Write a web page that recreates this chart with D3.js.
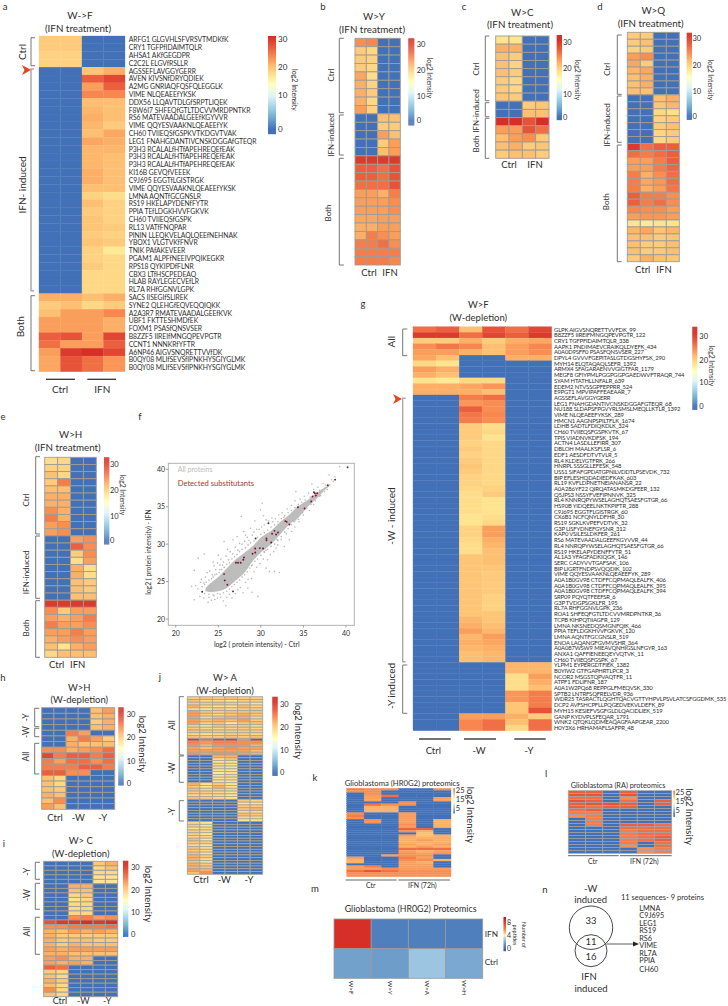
<!DOCTYPE html>
<html><head><meta charset="utf-8">
<script src="https://cdn.jsdelivr.net/npm/d3@7"></script>
<style>html,body{margin:0;padding:0;background:#fff}svg{display:block}text{font-family:Lato,"Open Sans",sans-serif;fill:#2e2e2e}</style>
</head><body><svg id="c" width="728" height="1006"></svg>
<script>
// ---------- DATA ----------
const labelsA=["ARFG1 GLGVHLSFVRSVTMDKfK","CRY1 TGFPfIDAIMTQLR","AHSA1 AKfGEGDPR","C2C2L ELGVfRSLLR","AGSSEFLAVGGYGERR","AVEN KIVSNfDRYQDIEK","A2MG GNRIAQFQSFQLEGGLK","VIME NLQEAEEfYKSK","DDX56 LLQAVTDLGfSRPTLIQEK","F8W6I7 SHFEQfGTLTDCVVMRDPNTKR","RS6 MATEVAADALGEEfKGYVVR","VIME QQYESVAAKNLQEAEEfYK","CH60 TVIIEQSfGSPKVTKDGVTVAK","LEG1 FNAHGDANTIVCNSKDGGAfGTEQR","P3H3 RCALALfHTfAPEHREQEfEAK","P3H3 RCALALfHTfAPEHREQEfEAK","P3H3 RCALALfHTfAPEHREQEfEAK","KI16B GEVQfVEEEK","C9J695 EGGTfLGISTRGK","VIME QQYESVAAKNLQEAEEfYKSK","LMNA AQNTfGCGNSLR","RS19 HKELAPYDENfFYTR","PPIA TEfLDGKHVVFGKVK","CH60 TVIIEQSfGSPK","RL13 VATfFNQPAR","PININ LLEQKVELAQLQEEfNEHNAK","YBOX1 VLGTVKfFNVR","TNIK PAfAKEVEER","PGAM1 ALPFfNEEIVPQIKEGKR","RPS18 QYKIPDfFLNR","CBX3 LTfHSCPEDEAQ","HLAB RAYLEGECVEfLR","RL7A RHfGGNVLGPK","SACS IISEGIfSLIREK","SYNE2 QLEHGfEQVEQQIQKK","A2A3R7 RMATEVAADALGEEfKVK","UBF1 FKTTESHMDfEK","FOXM1 PSASfQNSVSER","B8ZZF5 IIREIfMNGQPEVPGTR","CCNT1 NNNKRfYFTR","A6NP46 AIGVSNQRETTVVfDK","B0QY08 MLIfSEVSfIPNKHYSGIYGLMK","B0QY08 MLIfSEVSfIPNKHYSGIYGLMK"];
const cellsA=[[20,20,0,0],[20,20,0,0],[19.5,19.5,0,0],[19.5,19.5,0,0],
[0,0,20.5,22],[0,0,27,29],[0,0,23,27],[0,0,24.5,24.5],[0,0,21,21],[0,0,21.5,21],[0,0,22,21],[0,0,21.5,20],[0,0,21,22.5],[0,0,22.5,22],[0,0,21.5,21.5],[0,0,21.5,21],[0,0,21.5,21],[0,0,22,21],[0,0,22,21],[0,0,21,21],[0,0,19.5,18.5],[0,0,21,19.5],[0,0,20,19.5],[0,0,20.5,19.5],[0,0,20.5,20],[0,0,20,19.5],[0,0,20.5,20],[0,0,19.5,17.5],[0,0,19.5,19],[0,0,20,19],[0,0,19,19],[0,0,19,19],[0,0,19,19],
[22,22,21,22],[20,21,19,20],[21,23,23,24.5],[23,23,23,22],[23,23,23,22],[27,28,23,29],[26,23,23,27],[23,30,31,29],[22.5,28,26,23.5],[22.5,28,26,23.5]];
const cellsB=[[24,24.5,0,0],[20,19,0,0],[20,19.5,0,0],[20,19,0,0],[22.5,18.5,0,0],[22,19.5,0,0],[22,20,0,0],[22,19,0,0],[23,19.5,0,0],
[0,0,21,21],[0,0,20,20],[0,0,23,21],[0,0,20,23],[0,0,21,23],
[30,30,30,30],[27,27,26,28],[27,27,26,28],[26,26,26,28],[23,23,22,25],[23,23,23,24],[23,23,23,24],[22.5,22.5,23,23],[22,22,23,23],[22,25,24,23],[25,25,26,24],[25,25,25,25],[25,25,25,24.5]];
const cellsC=[[18,18,0,0],[22,22,0,0],[21,20,0,0],[21,19.5,0,0],[21,20,0,0],[20,19,0,0],[20,19,0,0],[20.5,20,0,0],
[0,0,20,20.5],[0,0,21,21],
[31,31,28,31],[23,23,28,26],[21,23,24,20],[21,22,20,20.5],[20,21,21,20]];
const cellsD=[[20,20,0,0],[20,21,0,0],[19.5,20,0,0],[23,24,0,0],[22.5,20,0,0],[21.5,22.5,0,0],[21,22,0,0],[21,22,0,0],[21,21,0,0],
[0,0,21,22],[0,0,20.5,21.5],[0,0,19,18.5],[0,0,19.5,20],[0,0,20,21],[0,0,19,20],[0,0,19,20],
[30,26,27,27],[26,25,26,27],[23,23,25,27],[23,23,25,26.5],[25,22,24,26],[25,22.5,23.5,26],[25,22,23,25.5],[27,25,25,24],[27,25,26,24],[24.5,24,24,23],[23,23.5,23.5,23],[18,17.5,18,18],[21.5,22.5,20.5,21.5],[21,21,20,20.5],[21,20,20,21],[21,20,20,21],[20,22,21,20.5]];
const cellsE=[[18.5,19,0,0],[19.5,19.5,0,0],[21,19,0,0],[20,25,0,0],[21,21,0,0],[22,22,0,0],[22,22,0,0],[24,22,0,0],[25,22,0,0],[23,24,0,0],[23,24,0,0],
[0,0,23,24],[0,0,27,24],[0,0,20,24],[0,0,18.5,23],[0,0,22,18.5],[0,0,22,18.5],[0,0,21,20],[0,0,21,20],[0,0,21,21],
[30,30,30,30],[24,20,23,23],[23,22,23,25],[25,23,23,24],[23,23,25,23],[22,23,24,23],[21,18,22,23],[19,21,21,21]];
const labelsG=["GLPK AIGVSNQRETTVVFDK_99","B8ZZF5 IIREIFMNGQPEVPGTR_122","CRY1 TGFPFIDAIMTQLR_338","AAPK1 PNDIMAEVCRAIKQLDYEFK_434","A0A0D9SFF0 PSASFQNSVSER_227","DPYL4 GVVVFGEPITASLGTDGSHYFSK_290","MYH14 ELQTAQAQLSEFR_1392","ARMX4 SFAGARAENVVGIGTFAR_1179","MEGF8 GFIYPMLPGGPGGPGAEDWVFTRAQR_744","SYAM HTATHLLNFALR_639","EDEM2 NTVSSGPFEPPRR_524","E9PGT1 MPVIPAFFEAEAAR_7","AGSSEFLAVGGYGERR","LEG1 FNAHGDANTIVCNSKDGGAFGTEQR_68","NU188 SLDAPSFPGVYRLSMSLMEQLLKTLR_1392","VIME NLQEAEEFYKSK_289","HMCN1 AAGNPSPILTFLK_1674","LDHB SADTLFDIQKDLK_324","CH60 TVIIEQSFGSPKVTK_67","TPIS VIADNVKDFSK_194","ACTN4 LASDLLEFIRR_307","DBLOH MAALKSFLSR_6","EDF1 AESDFDTVTVLR_5","RL4 KLDELYGTFRK_266","HNRPL SSSGLLEFESK_548","USS1 SIFAFGPDATGPNILVDDTLPSEVDK_732","BIP EFLESHQDADIEDFKAK_603","RL19 KVFLDPNETNEIANANSR_22","A0A286YF22 QIRQATASMKDGFEER_132","Q5JPS3 NSSYFVEFIPNNVK_325","RL4 KNNRQPYWSELAGHQTSAESFGTGR_66","HS90B YIDQEELNKTKPIFTR_288","C9J695 EGGTFLGISTRGK_60","CX6B1 NCFQNYLDFHR_30","RS19 SGKLKVPEFVDTVK_32","G3P LISFYDNEFGYSNR_312","KAP0 VSILESLDKFER_261","RS6 MATEVAADALGEEFKGYVVR_44","RL4 NNRQPYWSELAGHQTSAESFGTGR_66","RS19 HKELAPYDENFFYTR_51","AL1A3 YFAGFADKIQGK_146","SERC CADYVVTGAFSAK_106","BIP LIGRTFNDPSVQQDIK_102","VIME QQYESVAAKNLQEAEEFYK_289","A0A1B0GV98 CTDFFCQPMAQLEALFK_406","A0A1B0GV98 CTDFFCQPMAQLEALFK_395","A0A1B0GV98 CTDFFCQPMAQLEALFK_394","SRP09 PQYQTFEEFSR_6","G3P TVDGPSGKLFR_195","RL7A RHFGGNVLGPK_236","ROA1 SHFEQFGTLTDCVVMRDPNTKR_36","TCPB KIHPQTIIAGFR_129","LMNA NKSNEDQSMGNFQIK_466","PPIA TEFLDGKHVVFGKVK_120","LMNA AQNTFGCGNSLR_519","ENOA LAQANGFGVMVSHR_364","A0A087WSW9 MIEAVQNHIGSLNFGYR_163","ANXA1 QAFFIENEEQEYVQTVK_11","CH60 TVIIEQSFGSPK_67","YLPM1 EYPERGDTFIEK_1382","B0YIW2 GTFGAPHRTLPCR_3","NCOR2 MSGSTQPVAQTFR_11","ATPF1 FDLIFNR_187","A0A1W2PQ68 REPPGLFMEQVSK_330","SPTB2 LNTRFSQFRELVDR_936","WDR25 TASRACTLQGHTQACVGTTYHPVLPSVLATCSFGGDMK_535","DCP2 AVFSHCPFLLPQGEDVEKVLDEFK_89","MYH15 KESIEFVSGFGLDLQACIDLIEK_519","GANP KYDVPLSFEQAR_1791","WNK2 QTQKLQDMEAQAGFAAPGEAR_2200","H0Y3X6 HRHAMAFLSAFPR_48"];
const cellsG=[[26,27,21,28,26,29],[30,30,26,29,27,30],[20,20,22,20,22,22.5],[24,25.5,24.5,21,23,24.5],[23,23,22,21,23,24],[22.5,21,0,0,22,22],[19,18,0,0,0,0],[23,22,0,0,0,0],[22,21,0,0,0,0],[18,17.5,19,19,0,0],[22,22,22.5,23.5,0,0],[22,22,22,21,0,0],
[0,0,25,26,0,0],[0,0,23.5,24,0,0],[0,0,27,24,0,0],[0,0,25.5,24.5,0,0],[0,0,25,24,0,0],[0,0,20,18.5,0,0],[0,0,20,19,0,0],[0,0,20,18,0,0],[0,0,19.5,19,0,0],[0,0,20,19,0,0],[0,0,19.5,19,0,0],[0,0,20,19,0,0],[0,0,20.5,19,0,0],[0,0,20,19,0,0],[0,0,19.5,19,0,0],[0,0,19.5,19,0,0],[0,0,19,19.5,0,0],[0,0,18.5,20,0,0],[0,0,18.5,18,0,0],[0,0,18.5,18,0,0],[0,0,18.5,18,0,0],[0,0,18,18.5,0,0],[0,0,18,19,0,0],[0,0,19.5,23,0,0],[0,0,19.5,23,0,0],[0,0,19,22,0,0],[0,0,18.5,21.5,0,0],[0,0,18.5,21,0,0],[0,0,20.5,21,0,0],[0,0,20.5,21,0,0],[0,0,20.5,20.5,0,0],[0,0,20.5,20,0,0],[0,0,20.5,20,0,0],[0,0,20.5,20,0,0],[0,0,20.5,20,0,0],[0,0,20.5,19.5,0,0],[0,0,20.5,19.5,0,0],[0,0,20.5,19.5,0,0],[0,0,20.5,20.5,0,0],[0,0,21.5,20.5,0,0],[0,0,22,21,0,0],[0,0,23,21.5,0,0],[0,0,21.5,23,0,0],[0,0,22,22.5,0,0],[0,0,21.5,22,0,0],[0,0,21,21.5,0,0],[0,0,21,21.5,0,0],
[0,0,0,0,21.5,21.5],[0,0,0,0,21.5,21.5],[0,0,0,0,18.5,23],[0,0,0,0,18.5,22],[0,0,0,0,18.5,21],[0,0,0,0,23.5,25],[0,0,0,0,23.5,25],[0,0,0,0,20.5,25],[0,0,0,0,20.5,28],[0,0,23,23,22,20],[0,0,24.5,26,21,26],[0,0,24.5,26,19,26]];
const cellsH=[[0,0,0,0,21,23],[0,0,0,0,21,22],[0,0,0,0,20,22],[0,0,0,0,21,22],[0,0,25,23,0,0],[0,0,22,25,23,20],[0,0,22,21,21,21],[24,24,22,23,24,26],[29,25,27,27,25,27],[25,23,26,26,24,26],[25,25,25,27,27,25],[27,27,24,24,0,0],[21,19,0,0,0,0],[21,19,0,0,0,0],[21,20,0,0,0,0],[22,21,0,0,0,0],[21,24,0,0,0,0],[23,21,0,0,0,0]];
const cellsI=[[0,0,0,0,20,22],[0,0,0,0,19,21],[0,0,0,0,19,19],[0,0,0,0,18,18],[0,0,0,0,18,18],
[0,0,22,22,0,0],[0,0,21,21,0,0],[0,0,19,20,0,0],[0,0,18,19,0,0],[0,0,19,19,0,0],[0,0,19,19,0,0],[0,0,19,19,0,0],[0,0,24,25,23,24],
[28,30,30,31,30,31],[24,24,25,25,25,26],[22,21,23,22,23,22],[22,20,20,20,20,20],[22,20,21,21,20,20],[22,20,22,21,21,21],[23,22,23,23,23,23],[22,22,21,21,21,21],[23,24,22,22,0,0],[23,22,23,22,0,0],[27,26,0,0,0,0],
[20,19,0,0,0,0],[21,19,0,0,0,0],[22,20,0,0,0,0],[21,19,0,0,0,0],[24,19,0,0,0,0],[21,19,0,0,0,0]];
const cellsJ=[[20,21,20,21,20,20],[21,19,19,18,20,20],[20,20,21,20,19,18],[22,19,18,18,21,19],[19,18,20,19,20,20],[23,21,20,21,21,21],[23,20,19,20,22,20],[23,19,21,22,22,19],[23,21,22,21,23,20],[23,20,21,18,21,21],[20,18,21,20,20,19],[20,19,19,19,20,19],[21,21,20,20,20,20],[19,18,19,20,20,19],[21,20,20,21,20,21],[30,26,29,30,24,30],[25,23,25,25,24,24],[24,22,24,24,24,22],[23,21,23,24,23,23],[23,23,23,23,23,21],[24,23,24,24,23,22],
[0,0,22,22,0,0],[0,0,19,21,0,0],[0,0,18,18,0,0],[0,0,19,18,0,0],[0,0,19,18,0,0],[0,0,18,18,0,0],[0,0,17,18,0,0],[0,0,18,19,0,0],[0,0,18,18,0,0],[0,0,18,18,0,0],[22,18,20,18,0,0],[20,18,22,18,0,0],[21,19,20,19,0,0],[20,20,19,18,0,0],[19,19,19,18,0,0],[21,20,19,18,0,0],
[0,0,0,0,20,19],[0,0,0,0,18,18],[0,0,0,0,20,20],[0,0,0,0,21,22],[0,0,0,0,19,19],[0,0,0,0,21,20],[0,0,0,0,19,19],[0,0,0,0,18,18],
[19,18,0,0,0,0],[20,18,0,0,0,0],[18,19,0,0,0,0],[20,19,0,0,0,0],[20,18,0,0,0,0],[19,19,0,0,0,0],[21,18,0,0,0,0],[20,20,0,0,0,0],[19,18,0,0,0,0],[21,19,0,0,0,0],[20,19,0,0,0,0],[21,18,0,0,0,0],[22,20,0,0,0,0],[22,19,0,0,0,0],[21,18,0,0,0,0],[22,20,0,0,0,0],[22,21,0,0,0,0],[23,22,0,0,0,0],[21,24,0,0,0,0]];
const cellsK=[[25,24,24,0,0,24],[24,24,0,0,0,0],[0,24,0,0,0,0],[0,23,26,0,0,0],[0,23,0,0,0,23],[0,23,0,0,0,23],[0,0,0,24,0,0],[0,26,24,24,0,0],[0,22,22,0,0,0],[0,22,22,0,0,0],[0,22,22,0,0,0],[24,0,0,23,0,0],[25,0,0,23,0,0],[24,0,0,23,0,0],[0,24,0,23,0,22],[0,24,0,23,0,22],[0,0,0,24,0,22],[0,0,0,23,0,22],[0,0,0,27,27,0],[0,0,0,24,22,0],[0,0,0,0,21,0],[0,0,0,23,21,22],[0,0,0,22,22,22],[0,0,0,22,23,22],[0,0,0,22,22,22],[0,0,0,23,22,23],[0,0,0,22,23,22],[0,0,0,26,26,26],[0,0,0,23,22,23],[0,0,0,24,23,24],[0,0,23,24,24,0],[23,0,0,25,23,0],[22,0,0,24,24,22],[22,0,0,23,22,0],[0,0,0,23,23,0],[23,25,0,23,23,0],[23,23,24,23,23,23],[26,28,26,24,24,24],[24,24,24,24,24,24],[24,24,24,24,24,24]];
const cellsL=[[27,27,0,27,0,0],[28,28,0,28,0,0],[26,26,0,24,0,0],[28,27,0,26,0,27],[27,28,28,27,0,27],[27,26,27,27,0,0],[26,27,0,0,0,0],[25,25,0,0,0,0],[24,25,0,0,0,0],[0,25,0,0,0,0],[0,25,0,0,0,0],[0,25,0,27,27,26],[0,0,0,26,26,26],[0,0,0,25,26,26],[0,0,0,25,26,26],[0,0,0,25,26,27],[0,0,0,25,26,27],[0,0,0,25,0,26],[0,0,0,24,0,26],[0,0,0,0,24,25],[0,0,0,0,24,25]];
const cellsM=[[8.6,0.5,0.5,0.5],[1.7,1.6,2.7,1.9]];
const samplesM=["W>F","W>Y","W>A","W>H"];
const rowNamesM=["IFN","Ctrl"];
const vennItems=["LMNA","C9J695","LEG1","RS19","RS6","VIME","RL7A","PPIA","CH60"];
const cloudX=[23.5,24.0,25.0,25.95,26.9,28.1,29.1,30,31.2,32.2,33.3,34.3,35.5,36.5,37.4,38.0];
const cloudHi=[24.1,24.7,25.6,26.7,27.8,28.9,29.8,30.9,31.8,32.9,33.9,35.0,35.9,36.8,37.5,37.9];
const cloudLo=[23.7,23.6,23.7,24.1,25.0,26.2,27.8,28.9,30.0,31.2,32.6,33.4,35.0,36.0,37.1,37.7];
const strayPts=[[22.18,26.49],[22.65,28.13],[23.35,28.67],[21.87,24.36],[22.33,24.44],[22.18,22.58],[22.84,23.02],[23.81,22.22],[25.88,21.78],[24.6,22.6],[27.7,33.69],[30.16,35.47],[29.96,34.58],[28,31.69],[28.79,32.13],[26.73,30.58],[25.68,30.36],[34.12,37.02],[36,38.04],[38,39.24],[39.26,40.36],[30.62,33.24],[32.18,26.22],[31.6,26.36],[31.01,26.36],[29.65,23.02],[28.95,23.56],[28.48,24.13],[30.62,26.8],[31.79,29.47],[32.76,29.69],[33.35,30.58],
[22.6,24.0],[22.9,24.9],[23.0,25.3],[23.3,24.8],[23.5,25.6],[23.7,26.2],[24.0,26.4],[24.3,25.9],[24.5,27.1],[24.7,26.6],[24.9,27.5],[25.2,27.2],[25.3,28.0],[25.6,27.6],[25.9,28.4],[26.2,27.9],[26.4,29.0],[26.7,28.7],[27.0,29.6],[27.3,29.2],[27.5,30.1],[27.8,30.0],[28.1,30.4],[28.4,30.9],[28.6,30.5],[29.0,31.2],[29.2,31.6],[29.5,32.0],[29.8,32.0],[30.1,32.3],[30.4,32.6],[30.9,33.1],[31.3,33.5],[31.7,33.4],[32.1,33.9],[32.5,34.2],[33.1,34.7],[33.6,35.2],[34.0,35.8],[34.6,36.0],[35.1,36.4],[35.6,36.8],[36.2,37.3],[36.7,37.6],[37.3,38.1],
[23.3,22.8],[23.9,22.9],[24.2,22.5],[24.5,23.1],[24.9,22.8],[25.3,22.9],[25.6,22.4],[26.0,22.9],[26.3,23.3],[26.6,22.8],[27.0,23.4],[27.3,23.9],[27.6,24.2],[27.9,23.5],[28.2,24.9],[28.5,25.3],[28.9,25.4],[29.2,26.3],[29.5,26.9],[29.9,27.4],[30.3,28.0],[30.8,27.9],[31.1,28.6],[31.5,29.0],[32.0,29.9],[32.4,30.6],[33.0,31.4],[33.6,31.7],[34.0,32.3],[34.5,33.0],[35.0,33.9],[35.7,34.5],[36.2,35.3],[37.0,36.5],[37.8,37.3],
[24.2,24.0],[26.8,25.0],[27.4,27.8],[25.2,26.6],[28.9,27.1],[30.4,29.0],[31.9,30.6],[33.9,33.0],[24.4,27.6],[25.0,28.5],[26.1,29.3],[27.2,31.0],[28.2,31.2],[29.3,33.1],[30.3,33.8],
[23.1,24.3],[23.4,24.6],[23.6,24.9],[23.9,25.2],[24.2,25.4],[24.4,25.6],[24.8,26.0],[25.1,26.2],[25.4,26.6],[25.7,26.9],[26.0,27.3],[26.3,27.5],[26.6,28.0],[26.9,28.3],[27.2,28.6],[27.5,29.0],[27.8,29.3],[28.2,29.5],[28.5,29.9],[28.8,30.2],[29.2,30.4],[29.6,30.9],[30.0,31.3],[30.4,31.5],[30.8,31.9],[31.2,32.3],[31.6,32.6],[32.0,33.0],[32.4,33.4],[32.8,33.8],[33.2,34.2],[33.6,34.5],[34.0,34.9],[34.4,35.3],[34.8,35.6],[35.2,35.9],[35.8,36.3],[36.3,36.8],[36.9,37.2],[37.6,37.9],[38.3,38.6],[38.7,39.0],
[23.4,23.4],[23.9,23.3],[24.4,23.2],[24.9,23.4],[25.2,23.3],[25.6,23.5],[26.0,23.7],[26.3,24.0],[26.6,24.3],[26.9,24.6],[27.2,24.9],[27.5,25.2],[27.8,25.6],[28.1,25.9],[28.4,26.3],[28.7,26.8],[29.0,27.2],[29.3,27.7],[29.6,28.0],[30.0,28.5],[30.4,28.9],[30.8,29.3],[31.2,29.7],[31.6,30.0],[32.0,30.5],[32.4,31.0],[32.8,31.6],[33.2,32.1],[33.6,32.6],[34.0,33.1],[34.4,33.3],[34.9,34.2],[35.4,34.8],[35.9,35.3],[36.4,35.8],[36.9,36.4],[37.5,37.0],[38.1,37.9],[38.5,38.4],
[24.6,25.9],[25.5,27.2],[26.5,25.4],[27.7,26.7],[29.8,29.4],[30.6,29.2],[31.4,33.0],[32.7,33.6],[25.8,24.7],[24.0,24.2]];
const redPts=[[23.11,23.64],[25.68,26],[25.76,25.16],[26.07,24.58],[26.73,23.69],[27.08,27.51],[27.32,27.51],[27.63,27.51],[27.94,27.91],[28.02,28.22],[29.03,28.71],[29.34,28.89],[29.34,29.42],[29.88,29.47],[30.27,29.42],[29.38,30.76],[30.66,30.76],[30.66,30.53],[31.21,30.22],[30.89,32.8],[31.32,31.38],[31.6,31.78],[31.79,31.29],[32.02,31.56],[32.88,33.07],[33.04,32.98],[33.35,32.62],[34.36,34.93],[35.14,34.76],[35.91,35.69],[36.07,36.36],[36.23,36.93],[36.46,36.49],[36.61,36.8],[36.34,36.8],[37.86,37.87],[38.72,38.62],[40.19,40.27]];
const axisTicks=[20,25,30,35,40];

// ---------- HELPERS ----------
const svg=d3.select("#c");
const color=d3.scaleLinear().domain([0,4,8,11,15,18,21,24,27,31]).range(["#4271b7","#74add1","#abd9e9","#e0f3f8","#ffffbf","#fee48f","#fdbf71","#f98e52","#eb5f3e","#d52f27"]).clamp(true);
const colorM=d3.scaleLinear().domain([0,1.6,2.7,4,6,8.6]).range(["#4271b7","#6e9dc9","#9cc5e1","#fdf0b0","#f67c4a","#d52f27"]);
function T(x,y,s,o={}){
  const t=svg.append("text").attr("x",x).attr("y",y).text(s)
    .attr("font-size",o.fs||9).attr("text-anchor",o.a||"middle");
  if(o.fill)t.style("fill",o.fill);
  if(o.ls)t.attr("letter-spacing",o.ls);
  if(o.rot)t.attr("transform",`rotate(${o.rot} ${x} ${y})`);
  return t;
}
const R=(x,y,s,fs)=>T(x,y,s,{fs:fs||8.5,rot:-90}).attr("dominant-baseline","middle");
const R90=(x,y,s,fs)=>T(x,y,s,{fs:fs||7.5,rot:90}).attr("dominant-baseline","middle");
function heat(cells,x0,x1,y0,y1,grid,col){
  const n=cells[0].length,c=col||color;
  const X=d3.scaleBand().domain(d3.range(n)).range([x0,x1]);
  const Y=d3.scaleBand().domain(d3.range(cells.length)).range([y0,y1]);
  const g=svg.append("g");
  cells.forEach((row,i)=>row.forEach((v,j)=>{
    const r=g.append("rect").attr("x",X(j)).attr("y",Y(i)).attr("width",X.bandwidth()).attr("height",Y.bandwidth()).attr("fill",c(v));
    if(grid){r.attr("stroke",grid.c||"#a6a29a").attr("stroke-width",grid.w||0.8);}
    else r.attr("stroke",c(v)).attr("stroke-width",0.3);
  }));
}
function cbar(x0,x1,y0,y1,tickVals,tickYs,lx,fs,col){
  const c=col||color;
  const Yp=d3.scaleLinear().domain(tickVals).range(tickYs);
  for(let y=y0;y<y1;y+=1){
    svg.append("rect").attr("x",x0).attr("y",y).attr("width",x1-x0).attr("height",1.2).attr("fill",c(Yp.invert(y+.5)));
  }
  tickVals.forEach(v=>T(lx,Yp(v)+(fs||8)*0.35,v,{fs:fs||8,a:"start"}));
}
function bracket(x,y0,y1,tick,opts={}){
  svg.append("path").attr("d",`M${x+tick},${y0}H${x}V${y1}H${x+tick}`).attr("fill","none")
    .attr("stroke",opts.c||"#666").attr("stroke-width",opts.w||0.9);
}
function rule(x0,x1,y,w,c){svg.append("line").attr("x1",x0).attr("x2",x1).attr("y1",y).attr("y2",y).attr("stroke",c||"#333").attr("stroke-width",w||1.3);}
function arrowHead(tipx,y){svg.append("path").attr("d",`M${tipx},${y}L${tipx-9},${y-5}L${tipx-6.5},${y}L${tipx-9},${y+5}Z`).attr("fill","#e8451f");}

// panel letters
[["a",5,10],["b",323,10],["c",464,10],["d",600,10],["e",3,420],["f",140,420],["g",363,307],["h",3,681],["i",4,847],["j",160,680],["k",315,781],["l",546,777],["m",315,892],["n",545,893]]
 .forEach(d=>T(d[1],d[2],d[0],{fs:9.5}));

// ---------- a ----------
heat(cellsA,39,125,36,371.7);
T(80,19,"W->F",{fs:10});T(78,31.7,"(IFN treatment)",{fs:9.8});
labelsA.forEach((s,i)=>{T(128.7,36+7.806*(i+.5)+2.5,s,{fs:6.8,a:"start",ls:-0.05});});
cbar(268,276,36,134,[0,30],[129.3,39.3],278,8);
T(278,70.2,"20",{fs:8,a:"start"});T(278,98,"10",{fs:8,a:"start"});
R90(293.3,90,"log2 Intensity",7);
bracket(31,37.7,65.7,4);bracket(31,69,290.7,3,{c:"#aaa",w:1.5});bracket(31,295.7,370.7,4);
R(23,52,"Ctrl",10);R(23,185,"IFN- induced",10);R(21,326.7,"Both",10);
arrowHead(31,70);
rule(46,75,379.3);rule(87.3,116,379.3);T(60,393,"Ctrl",{fs:10});T(102.3,393,"IFN",{fs:10});

// ---------- b ----------
const G={c:"#a09c94",w:0.9};
heat(cellsB,355,400.3,38.3,265,G);
T(374,20,"W>Y",{fs:9.8});T(372,33,"(IFN treatment)",{fs:9.8});
cbar(408.3,414.3,38.3,125,[0,30],[120.7,44],416.7,7.5);
T(416.7,72.6,"20",{fs:7.5,a:"start"});T(416.7,98.6,"10",{fs:7.5,a:"start"});
R90(429,78,"log2 Intensity",6.8);
bracket(339.3,38.3,112.7,4.5);bracket(339.3,115,155,4.5);bracket(339.3,158.3,265,4.5);
R(331.7,75,"Ctrl",8);R(331.7,135,"IFN-induced",8);R(329,213,"Both",8);
T(369,276,"Ctrl",{fs:9.5});T(390,276,"IFN",{fs:9.5});

// ---------- c ----------
heat(cellsC,495.7,549,36,158.3,G);
T(522.3,16,"W>C",{fs:9.8});T(520,28.3,"(IFN treatment)",{fs:9.8});
cbar(556.7,562,35,120,[0,30],[117.3,42.3],563,7.5);
T(563,71,"20",{fs:7.5,a:"start"});T(563,97,"10",{fs:7.5,a:"start"});
R90(577,80,"log2 Intensity",6.8);
bracket(485.3,36,100.7,4);bracket(485.3,102.7,116.7,4);bracket(485.3,118.3,158.3,4);
R(477.3,69,"Ctrl",8);R(477.3,111,"IFN-induced",8);R(477.3,144,"Both",8);
T(509,168.3,"Ctrl",{fs:9.5});T(535,168.3,"IFN",{fs:9.5});

// ---------- d ----------
heat(cellsD,627.3,679.3,32.3,261.7,G);
T(653.3,14,"W>Q",{fs:9.8});T(650.7,26.7,"(IFN treatment)",{fs:9.8});
cbar(686.7,692,32.7,119.3,[0,30],[116,38.3],692.5,7.5);
T(692.5,67.6,"20",{fs:7.5,a:"start"});T(692.5,93.6,"10",{fs:7.5,a:"start"});
R90(710,80,"log2 Intensity",6.8);
bracket(617.3,35,94.3,4.4);bracket(617.3,96,142.3,4.4);bracket(617.3,145,261.7,4.4);
R(608,69.3,"Ctrl",8);R(608,125,"IFN-induced",8);R(606.7,201.7,"Both",8);
T(642.7,272.7,"Ctrl",{fs:9.5});T(664,272.7,"IFN",{fs:9.5});

// ---------- e ----------
heat(cellsE,44.7,96.3,457.3,657.3,G);
T(70.7,438,"W>H",{fs:9.8});T(67.7,451,"(IFN treatment)",{fs:9.8});
cbar(104,109.3,457.3,544,[0,30],[540.7,464],110,7.5);
T(110,492.6,"20",{fs:7.5,a:"start"});T(110,518.6,"10",{fs:7.5,a:"start"});
R90(121.7,495,"log2 Intensity",6.8);
bracket(35.7,456.7,534,4.3);bracket(35.7,536,598.3,4.3);bracket(35.7,600.7,657.3,4.3);
R(26.7,500,"Ctrl",8);R(26.7,572.3,"IFN-induced",8);R(27,628,"Both",8);
T(56.7,667.7,"Ctrl",{fs:9.5});T(77.7,667.7,"IFN",{fs:9.5});

// ---------- f ----------
const fx=d3.scaleLinear().domain([20,40]).range([175.7,346]);
const fy=d3.scaleLinear().domain([20,40]).range([619,469.3]);
svg.append("rect").attr("x",168.3).attr("y",463.3).attr("width",186).attr("height",162).attr("fill","#fff").attr("stroke","#aaa").attr("stroke-width",0.9);
const GREY="#bdbdbd";
svg.append("path").datum(cloudX).attr("fill",GREY)
  .attr("d",d3.area().x(d=>fx(d)).y0((d,i)=>fy(cloudLo[i])).y1((d,i)=>fy(cloudHi[i])).curve(d3.curveCatmullRom));
svg.append("g").selectAll("circle").data(strayPts).join("circle").attr("cx",d=>fx(d[0])).attr("cy",d=>fy(d[1])).attr("r",0.8).attr("fill","#b8b8b8");
svg.append("g").selectAll("circle").data(redPts).join("circle").attr("cx",d=>fx(d[0])).attr("cy",d=>fy(d[1])).attr("r",0.95).attr("fill","#7d1622");
axisTicks.forEach(v=>{
  svg.append("line").attr("x1",fx(v)).attr("x2",fx(v)).attr("y1",625.3).attr("y2",627.5).attr("stroke","#777").attr("stroke-width",.7);
  T(fx(v),636,v,{fs:7});
  svg.append("line").attr("x1",166).attr("x2",168.3).attr("y1",fy(v)).attr("y2",fy(v)).attr("stroke","#777").attr("stroke-width",.7);
  T(165,fy(v)+2.5,v,{fs:7,a:"end"});
});
T(177.7,472.3,"All proteins",{fs:7,a:"start",fill:"#bbb"});
T(177.7,486,"Detected substitutants",{fs:7.6,a:"start",fill:"#a33a30"});
T(256.7,646.7,"log2 ( protein intensity) - Ctrl",{fs:6.8});
R(149.7,552,"log2 ( protein intensity) - IFN",6.8);

// ---------- g ----------
heat(cellsG,413,551.7,326.7,730.7);
T(478.3,307.7,"W>F",{fs:9.5});T(478.3,321,"(W-depletion)",{fs:9.5});
labelsG.forEach((s,i)=>T(554,326.7+5.69*(i+.5)+2.1,s,{fs:5.9,a:"start",ls:-0.16}));
cbar(692.3,697.3,326.7,409.3,[0,30],[406,336.7],699.3,7.5);
T(699.3,362.6,"20",{fs:7.5,a:"start"});T(699.3,385,"10",{fs:7.5,a:"start"});
R90(711,366,"log2 Intensity",6.8);
bracket(402.7,329,355.7,4.6);bracket(402.7,398.3,661.7,3,{c:"#aaa",w:1.4});bracket(402.7,665,713.3,4.6);
R(392.7,341.7,"All",10);R(392.7,516,"-W - induced",10);R(392.7,686,"-Y induced",10);
arrowHead(402,399);
rule(419,450.7,739,1.5,"#444");rule(464,496,739,1.5,"#444");rule(514.3,545.7,739,1.5,"#444");
T(433.3,754.3,"Ctrl",{fs:9.5});T(479,754.3,"-W",{fs:9.5});T(529,754.3,"-Y",{fs:9.5});

// ---------- h ----------
heat(cellsH,41.7,114.7,707.7,809.3,G);
T(79.3,691,"W>H",{fs:9.5});T(79.3,703.3,"(W-depletion)",{fs:9.5});
cbar(118.3,123.7,707.3,785.3,[0,30],[783.3,714],126.7,7.5);
T(126.7,740.3,"20",{fs:7.5,a:"start"});T(126.7,763.6,"10",{fs:7.5,a:"start"});
R90(141.7,744,"log2 Intensity",9.5);
bracket(34.7,708.3,726.7,4.6);bracket(34.7,728.3,736.7,4.6);bracket(34.7,743.3,774,4.6);
R(26.7,717.3,"-Y",8.5);R(26.7,732,"-W",8.5);R(26.7,756.7,"All",8.5);
T(55,820.7,"Ctrl",{fs:9.5});T(78.3,820.7,"-W",{fs:9.5});T(102.7,820.7,"-Y",{fs:9.5});

// ---------- i ----------
heat(cellsI,43.7,117.7,861.3,996.7,G);
T(80.7,844.3,"W> C",{fs:9.5});T(80.7,857.3,"(W-depletion)",{fs:9.5});
cbar(123,128.3,860.7,936.7,[0,30],[934.3,867.3],131,7.5);
T(131,892.6,"20",{fs:7.5,a:"start"});T(131,915.3,"10",{fs:7.5,a:"start"});
R90(147.7,894,"log2 Intensity",9.5);
bracket(35.3,862.3,879.3,4.7);bracket(35.3,883.3,909.3,4.7);bracket(35.3,917.3,954.3,4.7);
R(27.7,871.7,"-Y",8.5);R(27.7,895,"-W",8.5);R(27.7,931.7,"All",8.5);
T(60,1003.5,"Ctrl",{fs:9});T(83.3,1003.5,"-W",{fs:9});T(107.3,1003.5,"-Y",{fs:9});

// ---------- j ----------
heat(cellsJ,187.3,262.7,696.7,874.3,{c:"#aaa597",w:0.85});
T(225,680.7,"W> A",{fs:9.5});T(225,693.7,"(W-depletion)",{fs:9.5});
cbar(272.3,277.7,696.7,775,[0,30],[772.7,704],280,7.5);
T(280,729.9,"20",{fs:7.5,a:"start"});T(280,753.3,"10",{fs:7.5,a:"start"});
R90(297.3,731,"log2 Intensity",9.5);
bracket(179.3,696.7,755,4.6);bracket(179.3,756,782.3,4.6);bracket(179.3,800.7,821,4.6);
R(173.3,725,"All",8.5);R(173.3,768.3,"-W",8.5);R(173.3,811.7,"-Y",8.5);
T(201,883.3,"Ctrl",{fs:9.5});T(224.3,883.3,"-W",{fs:9.5});T(249,883.3,"-Y",{fs:9.5});

// ---------- k ----------
heat(cellsK,346.7,451,788.3,876.7);
T(344.7,785.7,"Glioblastoma (HR0G2) proteomics",{fs:7.7,a:"start"});
cbar(453.3,455,788.3,813.3,[5,25],[808.3,790.7],455.8,7.5);
T(455.8,802,"15",{fs:7.5,a:"start"});
R90(469.3,815,"log2 Intensity",9.5);
rule(345.7,396.7,880,.9,"#555");rule(398.3,450,880,.9,"#555");
T(370.7,888.3,"Ctr",{fs:7});T(422.3,888.3,"IFN (72h)",{fs:7});

// ---------- l ----------
heat(cellsL,568.3,671.7,790.7,853.3,{c:"#a3a3a3",w:0.7});
T(570.7,787.7,"Glioblastoma (RA) proteomics",{fs:7.3,a:"start"});
cbar(673.3,675,790.7,816,[5,25],[810,792.7],675.6,7.5);
T(675.6,803.6,"15",{fs:7.5,a:"start"});
R90(688.3,816.7,"log2 Intensity",9.5);
rule(568,618.7,855.7,.9,"#555");rule(620,671.7,855.7,.9,"#555");
T(592.7,864.3,"Ctr",{fs:7});T(644.3,864.3,"IFN (72h)",{fs:7});

// ---------- m ----------
heat(cellsM,334,482.7,919,978.3,{c:"#999",w:0.8},colorM);
T(344.7,912,"Glioblastoma (HR0G2) Proteomics",{fs:8.8,a:"start"});
rowNamesM.forEach((s,i)=>T(484.7,[936.7,965][i],s,{fs:8.3,a:"start"}));
samplesM.forEach((s,i)=>R90([351,389.3,426.7,464][i],987.7,s,6.3));
cbar(503.5,506,917,950.7,[0,8],[948.3,922.7],507,7,colorM);
T(507,938.2,"4",{fs:7,a:"start"});
R90(514,935,"peptides",5.5);R90(523,935,"Number of",5.5);

// ---------- n ----------
T(590.7,891.7,"-W",{fs:9.5});T(590.7,903.3,"induced",{fs:9.5});
svg.append("circle").attr("cx",591).attr("cy",927.7).attr("r",21.7).attr("fill","none").attr("stroke","#333").attr("stroke-width",.9);
svg.append("circle").attr("cx",591).attr("cy",950.7).attr("r",16).attr("fill","none").attr("stroke","#333").attr("stroke-width",.9);
T(591,924,"33",{fs:9.5});T(591,945,"11",{fs:9.5});T(591,960,"16",{fs:9.5});
T(589,980,"IFN",{fs:9.5});T(591,992.3,"induced",{fs:9.5});
T(621,900,"11 sequences- 9 proteins",{fs:7.5,a:"start"});
vennItems.forEach((s,i)=>T(639.3,[910.7,917.7,925.7,932.7,940.7,948.3,956,963.3,971.7][i],s,{fs:7.3,a:"start"}));
svg.append("line").attr("x1",606.7).attr("x2",635).attr("y1",944).attr("y2",944).attr("stroke","#333").attr("stroke-width",.8);
svg.append("path").attr("d","M639,944L633,941.5V946.5Z").attr("fill","#222");
</script></body></html>
